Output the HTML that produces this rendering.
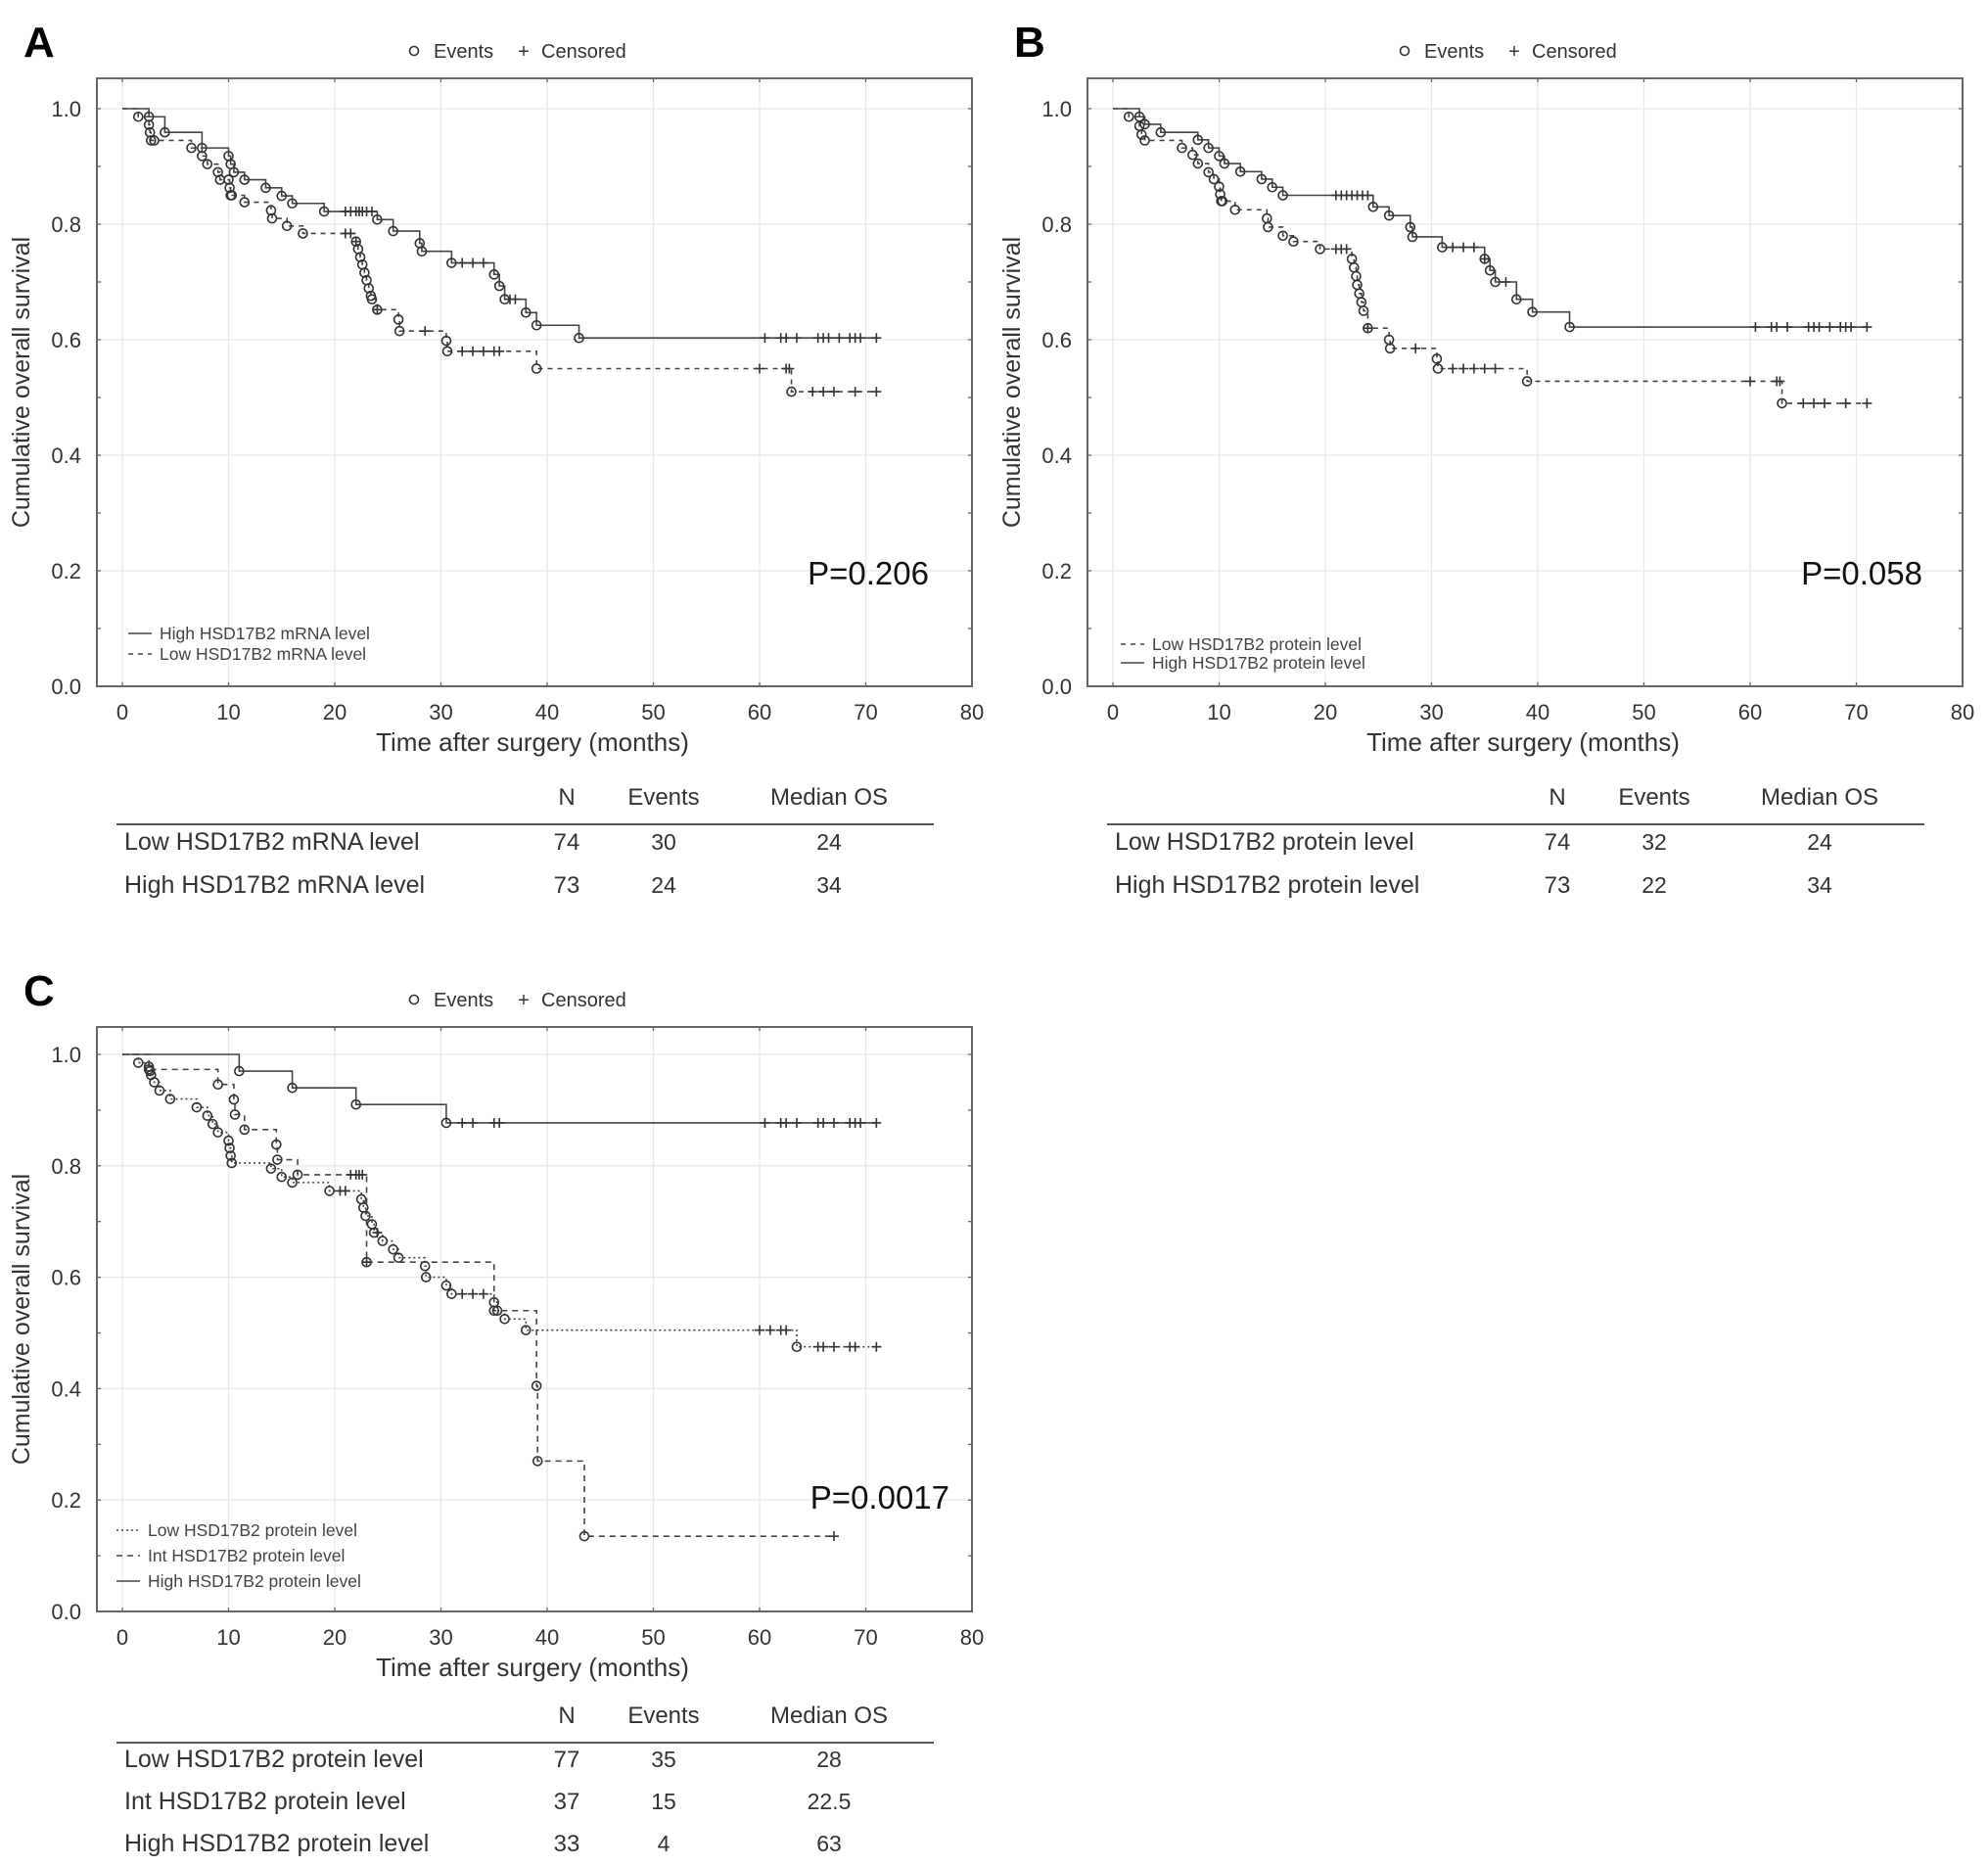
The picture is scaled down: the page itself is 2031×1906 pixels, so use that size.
<!DOCTYPE html>
<html><head><meta charset="utf-8">
<style>
html,body{margin:0;padding:0;background:#fff;}
svg{display:block;font-family:"Liberation Sans",Arial,sans-serif;}
</style></head>
<body>
<svg id="fig" width="2031" height="1906" viewBox="0 0 2031 1906" xmlns="http://www.w3.org/2000/svg"></svg>
<script>
// ---- Data (times in months, survival proportions) ----
const xTicks = [0,10,20,30,40,50,60,70,80];
const yTicks = [0.0,0.2,0.4,0.6,0.8,1.0];

// Panel A
const aHighT = [2.5,4,7.5,10,10.2,10.5,11.5,13.5,15,16,19,24,25.5,28,28.2,31,35,35.5,36,38,39,43];
const aHighS = [0.986,0.959,0.932,0.918,0.904,0.89,0.877,0.863,0.849,0.836,0.822,0.808,0.788,0.767,0.753,0.733,0.713,0.693,0.67,0.647,0.625,0.603];
const aHighC = [21,21.5,22,22.3,22.6,23,23.5,32,33,34,36.5,37,60.5,62,62.5,63.5,65.5,66,66.5,67.5,68.5,69,69.5,71];
const aLowT = [1.5,2.5,2.6,2.7,3,6.5,7.5,8,9,9.2,10,10.1,10.2,10.3,11.5,14,14.1,15.5,17,22,22.2,22.4,22.6,22.8,23,23.2,23.4,23.5,24,26,26.1,30.5,30.6,39,63];
const aLowS = [0.986,0.972,0.959,0.945,0.945,0.932,0.918,0.904,0.89,0.877,0.877,0.863,0.85,0.85,0.838,0.824,0.81,0.797,0.784,0.77,0.757,0.743,0.73,0.716,0.703,0.689,0.676,0.67,0.652,0.635,0.615,0.598,0.58,0.55,0.51];
const aLowC = [21,21.5,22,24,28.5,32,33,34,35,35.5,60,62.5,62.8,65,66,67,69,71];

// Panel B
const bHighT = [2.5,3,4.5,8,9,10,10.5,12,14,15,16,24.5,26,28,28.2,31,35,35.5,36,38,39.5,43];
const bHighS = [0.986,0.973,0.959,0.946,0.932,0.918,0.905,0.891,0.878,0.864,0.85,0.83,0.815,0.795,0.778,0.76,0.74,0.72,0.70,0.67,0.648,0.622];
const bHighC = [21,21.5,22,22.5,23,23.5,24,32,33,34,35,37,60.5,62,62.5,63.5,65.5,66,66.5,67.5,68.5,69,69.5,71];
const bLowT = [1.5,2.5,2.7,3,6.5,7.5,8,9,9.5,10,10.1,10.2,10.3,11.5,14.5,14.6,16,17,19.5,22.5,22.7,22.9,23,23.2,23.4,23.6,24,26,26.1,30.5,30.6,39,63];
const bLowS = [0.986,0.97,0.955,0.945,0.932,0.92,0.905,0.89,0.878,0.865,0.852,0.84,0.84,0.825,0.81,0.795,0.78,0.77,0.757,0.74,0.725,0.71,0.695,0.68,0.665,0.65,0.62,0.6,0.585,0.567,0.55,0.528,0.49];
const bLowC = [21,21.5,22,24,28.5,32,33,34,35,36,60,62.5,62.8,65,66,67,69,71];

// Panel C
const cHighT = [11,16,22,30.5];
const cHighS = [0.97,0.94,0.91,0.877];
const cHighC = [32,33,35,35.5,60.5,62,62.5,63.5,65.5,66,67,68.5,69,69.5,71];
const cIntT = [2.5,9,10.5,10.6,11.5,14.5,14.6,16.5,23,35,39,39.1,43.5];
const cIntS = [0.973,0.946,0.919,0.892,0.865,0.838,0.811,0.784,0.627,0.54,0.405,0.27,0.135];
const cIntC = [21.5,22,22.3,22.6,23,67];
const cLowT = [1.5,2.5,2.6,2.7,3,3.5,4.5,7,8,8.5,9,10,10.1,10.2,10.3,14,15,16,19.5,22.5,22.7,22.9,23.5,23.7,24.5,25.5,26,28.5,28.6,30.5,31,35,35.3,36,38,63.5];
const cLowS = [0.985,0.978,0.97,0.963,0.95,0.935,0.92,0.905,0.89,0.875,0.86,0.845,0.832,0.818,0.805,0.795,0.78,0.77,0.755,0.74,0.725,0.71,0.695,0.68,0.665,0.65,0.635,0.62,0.6,0.585,0.57,0.555,0.54,0.525,0.505,0.475];
const cLowC = [20.5,21,24,32,33,34,60,61,62,62.5,65.5,66,67,68.5,69,71];

const NS = "http://www.w3.org/2000/svg";
const svg = document.getElementById('fig');
function el(tag, attrs, parent, txt){
  const e = document.createElementNS(NS, tag);
  for (const k in attrs) e.setAttribute(k, attrs[k]);
  if (txt !== undefined) e.textContent = txt;
  (parent||svg).appendChild(e);
  return e;
}

function makeAxes(ox, y1, y0){
  const x0 = 125 + ox, x80 = 993 + ox;
  return {
    x: t => x0 + (x80 - x0) * t / 80,
    y: s => y0 - (y0 - y1) * s,
    x0, x80, y0, y1
  };
}

function panel(opts){
  const g = el('g', {});
  
  
  const ax = opts.ax;
  const top = opts.boxTop, bottom = ax.y0;
  const left = ax.x0 - 26, right = ax.x80;
  xTicks.forEach(t => {
    const gl = el('line', {x1:ax.x(t), x2:ax.x(t), y1:top, y2:bottom, stroke:'#e8e8e8','stroke-width':1.3}, g);
    
    
  });
  yTicks.forEach(v => {
    const gl = el('line', {x1:left, x2:right, y1:ax.y(v), y2:ax.y(v), stroke:'#e8e8e8','stroke-width':1.3}, g);
    
    
  });
  const box = el('rect', {x:left, y:top, width:right-left, height:bottom-top, fill:'none', stroke:'#666','stroke-width':2}, g);
  
  
  for (let v = 0; v <= 1.0001; v += 0.1){
    el('line', {x1:left, x2:left+4, y1:ax.y(v), y2:ax.y(v), stroke:'#666','stroke-width':1.3}, g);
    el('line', {x1:right, x2:right-4, y1:ax.y(v), y2:ax.y(v), stroke:'#666','stroke-width':1.3}, g);
  }
  xTicks.forEach(t => {
    el('line', {x1:ax.x(t), x2:ax.x(t), y1:bottom, y2:bottom-4, stroke:'#666','stroke-width':1.3}, g);
    el('line', {x1:ax.x(t), x2:ax.x(t), y1:top, y2:top+4, stroke:'#666','stroke-width':1.3}, g);
    const tl = el('text', {x:ax.x(t), y:bottom+34, 'font-size':22, fill:'#333','text-anchor':'middle'}, g, String(t));
    
    
  });
  yTicks.forEach(v => {
    const tl = el('text', {x:ax.x0-42, y:ax.y(v)+8, 'font-size':22, fill:'#333','text-anchor':'end'}, g, v.toFixed(1));
    
    
  });
  const xt = el('text', {x:544+opts.ox, y:bottom+66, 'font-size':26, fill:'#333','text-anchor':'middle'}, g, 'Time after surgery (months)');
  
  
  const cy = (top+bottom)/2;
  const yt = el('text', {x:0, y:0, 'font-size':25, fill:'#333','text-anchor':'middle', transform:`translate(${30+opts.ox},${cy}) rotate(-90)`}, g, 'Cumulative overall survival');
  
  
  const pl = el('text', {x:24+opts.ox, y:top-22, 'font-size':44, 'font-weight':'bold', fill:'#000'}, g, opts.letter);
  
  
  const lg = el('g', {}, g);
  
  
  const ly = top - 28;
  el('circle', {cx:423+opts.ox, cy:ly, r:4.5, fill:'none', stroke:'#333','stroke-width':1.6}, lg);
  el('text', {x:443+opts.ox, y:ly+7, 'font-size':20, fill:'#333'}, lg, 'Events');
  el('text', {x:535+opts.ox, y:ly+7, 'font-size':20, fill:'#333','text-anchor':'middle'}, lg, '+');
  el('text', {x:553+opts.ox, y:ly+7, 'font-size':20, fill:'#333'}, lg, 'Censored');
  const pv = el('text', {x:opts.pX, y:opts.pY, 'font-size':33, fill:'#111','text-anchor':'end'}, g, opts.p);
  
  
  opts.series.forEach(s => drawKM(g, ax, s));
  opts.series.forEach((s, i) => {
    const ly2 = opts.legY[i];
    const lgi = el('g', {}, g);
    
    
    el('line', {x1:opts.legX, x2:opts.legX+24, y1:ly2, y2:ly2, stroke:'#444','stroke-width':1.5,'stroke-dasharray':s.dash||'none'}, lgi);
    el('text', {x:opts.legX+32, y:ly2+6, 'font-size':17.5, fill:'#444'}, lgi, s.label);
  });
}

function survAt(T, S, t){
  let s = 1;
  for (let i = 0; i < T.length; i++) if (T[i] <= t) s = S[i];
  return s;
}

function drawKM(g, ax, s){
  const sg = el('g', {}, g);
  
  
  let d = `M${ax.x(0)},${ax.y(1)}`;
  for (let i = 0; i < s.T.length; i++){
    d += ` H${ax.x(s.T[i])} V${ax.y(s.S[i])}`;
  }
  const lastT = Math.max(s.T[s.T.length-1], ...s.C);
  d += ` H${ax.x(lastT)}`;
  el('path', {d, fill:'none', stroke:'#444','stroke-width':1.6,'stroke-dasharray':s.dash||'none'}, sg);
  for (let i = 0; i < s.T.length; i++){
    const c = el('circle', {cx:ax.x(s.T[i]), cy:ax.y(s.S[i]), r:4.5, fill:'none', stroke:'#333','stroke-width':1.6}, sg);
    
    
  }
  s.C.forEach(t => {
    const x = ax.x(t), y = ax.y(survAt(s.T, s.S, t));
    const p = el('path', {d:`M${x-5},${y} H${x+5} M${x},${y-5} V${y+5}`, stroke:'#333','stroke-width':1.6}, sg);
    
    
  });
}

function table(ox, y, rows, off){
  const g = el('g', {});
  
  
  const cx = [579+ox, 678+ox, 847+ox];
  ['N','Events','Median OS'].forEach((h,i) => el('text', {x:cx[i], y:y, 'font-size':24, fill:'#333','text-anchor':'middle'}, g, h));
  el('line', {x1:119+ox, x2:954+ox, y1:y+20, y2:y+20, stroke:'#555','stroke-width':2}, g);
  rows.forEach((r, j) => {
    const yy = y + off + j*r.gap;
    el('text', {x:127+ox, y:yy, 'font-size':25, fill:'#333'}, g, r.v[0]);
    for (let i = 1; i < 4; i++) el('text', {x:cx[i-1], y:yy, 'font-size':i===1?24:23, fill:'#333','text-anchor':'middle'}, g, r.v[i]);
  });
}

const axA = makeAxes(0, 111, 701);
panel({name:'panel-a', letter:'A', ox:0, ax:axA, boxTop:80, p:'P=0.206', pX:949, pY:597,
  legX:131, legY:[647,668],
  series:[
    {name:'high-mrna-curve', label:'High HSD17B2 mRNA level', T:aHighT, S:aHighS, C:aHighC},
    {name:'low-mrna-curve', label:'Low HSD17B2 mRNA level', T:aLowT, S:aLowS, C:aLowC, dash:'5,5'}
  ]});
const axB = makeAxes(1012, 111, 701);
panel({name:'panel-b', letter:'B', ox:1012, ax:axB, boxTop:80, p:'P=0.058', pX:1964, pY:597,
  legX:1145, legY:[658,677],
  series:[
    {name:'low-protein-curve-b', label:'Low HSD17B2 protein level', T:bLowT, S:bLowS, C:bLowC, dash:'5,5'},
    {name:'high-protein-curve-b', label:'High HSD17B2 protein level', T:bHighT, S:bHighS, C:bHighC}
  ]});
const axC = makeAxes(0, 1077, 1646);
panel({name:'panel-c', letter:'C', ox:0, ax:axC, boxTop:1049, p:'P=0.0017', pX:970, pY:1541,
  legX:119, legY:[1563,1589,1615],
  series:[
    {name:'low-protein-curve-c', label:'Low HSD17B2 protein level', T:cLowT, S:cLowS, C:cLowC, dash:'2,3'},
    {name:'int-protein-curve-c', label:'Int HSD17B2 protein level', T:cIntT, S:cIntS, C:cIntC, dash:'6,5'},
    {name:'high-protein-curve-c', label:'High HSD17B2 protein level', T:cHighT, S:cHighS, C:cHighC}
  ]});

table(0, 822, [
  {v:['Low HSD17B2 mRNA level','74','30','24'], gap:44},
  {v:['High HSD17B2 mRNA level','73','24','34'], gap:44}], 46);
table(1012, 822, [
  {v:['Low HSD17B2 protein level','74','32','24'], gap:44},
  {v:['High HSD17B2 protein level','73','22','34'], gap:44}], 46);
table(0, 1760, [
  {v:['Low HSD17B2 protein level','77','35','28'], gap:43},
  {v:['Int HSD17B2 protein level','37','15','22.5'], gap:43},
  {v:['High HSD17B2 protein level','33','4','63'], gap:43}], 45);
</script>
</body></html>
